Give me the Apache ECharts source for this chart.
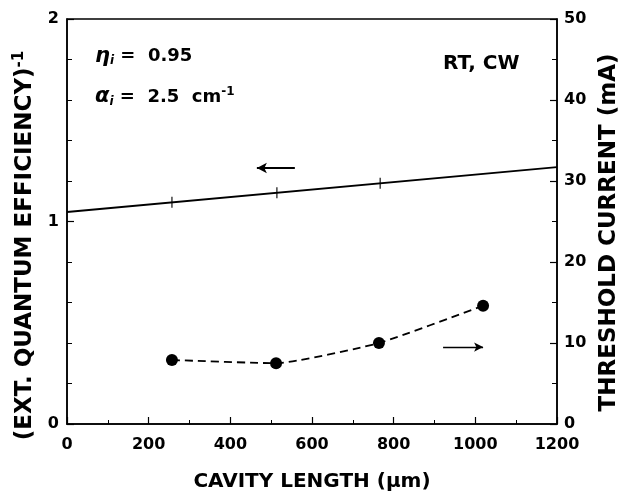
<!DOCTYPE html>
<html>
<head>
<meta charset="utf-8">
<script src="https://cdn.jsdelivr.net/npm/echarts@6/dist/echarts.min.js"></script>
<style>
  html, body { margin: 0; padding: 0; background: #fff; }
  #chart { width: 622px; height: 495px; }
</style>
</head>
<body>
<div id="chart"></div>
<script>
// inverse external quantum efficiency (left axis), fitted line
const effLine = [[0, 1.047], [1200, 1.269]];
// measured points on the line ("+" marks)
const effPoints = [[257, 1.095], [514, 1.142], [767, 1.189]];
// threshold current (right axis, mA)
const lengths = [257, 512, 764, 1019];
const thresholds = [7.9, 7.5, 10.0, 14.6];

const FONT = "DejaVu Sans";

const tickLabel = {
  fontFamily: FONT,
  fontWeight: "bold",
  fontSize: 16,
  color: "#000"
};

const axisLine = { lineStyle: { color: "#000", width: 1.5 } };

const option = {
  animation: false,
  backgroundColor: "#fff",
  grid: {
    left: 67,
    right: 65,
    top: 19,
    bottom: 71,
    outerBoundsMode: "none",
    show: true,
    borderColor: "#000",
    borderWidth: 1.5
  },
  xAxis: {
    type: "value",
    min: 0,
    max: 1200,
    interval: 200,
    name: "CAVITY LENGTH (µm)",
    nameLocation: "middle",
    nameGap: 48,
    nameTextStyle: { fontFamily: FONT, fontWeight: "bold", fontSize: 20, color: "#000" },
    axisLine: axisLine,
    axisTick: { inside: true, length: 7, lineStyle: { color: "#000", width: 1.2 } },
    minorTick: { show: true, splitNumber: 2, length: 4, lineStyle: { color: "#000" } },
    axisLabel: Object.assign({ margin: 13, formatter: (v) => String(v) }, tickLabel),
    splitLine: { show: false }
  },
  yAxis: [
    {
      type: "value",
      min: 0,
      max: 2,
      interval: 1,
      position: "left",
      name: "{a|(EXT. QUANTUM EFFICIENCY)}{s|-1}",
      nameLocation: "middle",
      nameRotate: 90,
      nameGap: 24,
      nameTextStyle: {
        padding: [0, 48, 0, 0],
        rich: {
          a: { fontFamily: FONT, fontWeight: "bold", fontSize: 23, color: "#000" },
          s: { fontFamily: FONT, fontWeight: "bold", fontSize: 15, color: "#000", verticalAlign: "top", padding: [0, 0, 13, 0] }
        }
      },
      axisLine: axisLine,
      axisTick: { inside: true, length: 7, lineStyle: { color: "#000", width: 1.2 } },
      minorTick: { show: true, splitNumber: 5, length: 5, lineStyle: { color: "#000" } },
      axisLabel: Object.assign({ margin: 8 }, tickLabel),
      splitLine: { show: false }
    },
    {
      type: "value",
      min: 0,
      max: 50,
      interval: 10,
      position: "right",
      name: "THRESHOLD CURRENT (mA)",
      nameLocation: "middle",
      nameRotate: 90,
      nameGap: 41,
      nameTextStyle: {
        fontFamily: FONT, fontWeight: "bold", fontSize: 23, color: "#000",
        verticalAlign: "bottom", padding: [0, 22, 0, 0]
      },
      axisLine: axisLine,
      axisTick: { inside: true, length: 7, lineStyle: { color: "#000", width: 1.2 } },
      minorTick: { show: true, splitNumber: 2, length: 5, lineStyle: { color: "#000" } },
      axisLabel: Object.assign({ margin: 7 }, tickLabel),
      splitLine: { show: false }
    }
  ],
  graphic: [
    {
      type: "text",
      left: 95,
      top: 46,
      style: {
        text: "{g|η}{sub|i}{t| =  0.95}",
        rich: {
          g: { fontFamily: FONT, fontStyle: "italic", fontWeight: "bold", fontSize: 21, fill: "#000" },
          sub: { fontFamily: FONT, fontStyle: "italic", fontWeight: "bold", fontSize: 12, fill: "#000", verticalAlign: "bottom", padding: [8, 0, 0, 0] },
          t: { fontFamily: FONT, fontWeight: "bold", fontSize: 18, fill: "#000" }
        }
      }
    },
    {
      type: "text",
      left: 95,
      top: 86,
      style: {
        text: "{g|α}{sub|i}{t| =  2.5  cm}{sup|-1}",
        rich: {
          g: { fontFamily: FONT, fontStyle: "italic", fontWeight: "bold", fontSize: 21, fill: "#000" },
          sub: { fontFamily: FONT, fontStyle: "italic", fontWeight: "bold", fontSize: 12, fill: "#000", verticalAlign: "bottom", padding: [8, 0, 0, 0] },
          t: { fontFamily: FONT, fontWeight: "bold", fontSize: 18, fill: "#000" },
          sup: { fontFamily: FONT, fontWeight: "bold", fontSize: 12, fill: "#000", verticalAlign: "top", padding: [0, 0, 10, 0] }
        }
      }
    },
    {
      type: "text",
      left: 443,
      top: 54,
      style: { text: "RT, CW", fontFamily: FONT, fontWeight: "bold", fontSize: 20, fill: "#000" }
    }
  ],
  series: [
    {
      name: "inverse efficiency",
      type: "line",
      yAxisIndex: 0,
      data: effLine,
      showSymbol: false,
      symbol: "none",
      lineStyle: { color: "#000", width: 1.8 },
      markLine: {
        silent: true,
        symbol: ["arrow", "none"],
        symbolSize: [8, 10],
        label: { show: false },
        lineStyle: { color: "#000", width: 1.8, type: "solid" },
        data: [[{ coord: [465, 1.264] }, { coord: [558, 1.264] }]]
      }
    },
    {
      name: "efficiency points",
      type: "scatter",
      yAxisIndex: 0,
      data: effPoints,
      symbol: "rect",
      symbolSize: [1.4, 11],
      itemStyle: { color: "#000" }
    },
    {
      name: "threshold current",
      type: "line",
      yAxisIndex: 1,
      data: lengths.map((x, i) => [x, thresholds[i]]),
      smooth: 0.15,
      symbol: "circle",
      symbolSize: 12,
      itemStyle: { color: "#000" },
      lineStyle: { color: "#000", width: 1.8, type: [8, 5] },
      markLine: {
        silent: true,
        symbol: ["none", "arrow"],
        symbolSize: [7, 9],
        label: { show: false },
        lineStyle: { color: "#000", width: 1.3, type: "solid" },
        data: [[{ coord: [921, 9.5] }, { coord: [1019, 9.5] }]]
      }
    }
  ]
};

const chart = echarts.init(document.getElementById("chart"));
chart.setOption(option);
</script>
</body>
</html>
